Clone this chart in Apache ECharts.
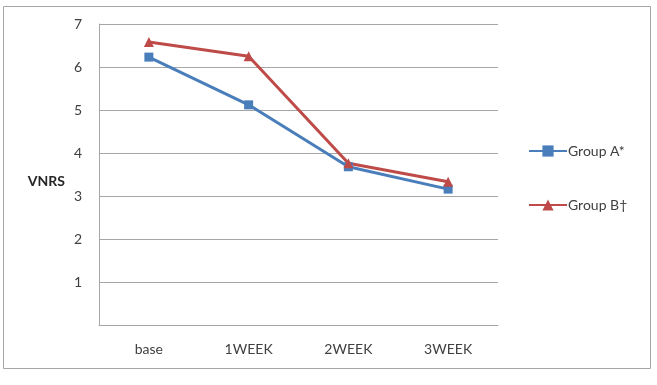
<!DOCTYPE html>
<html>
<head>
<meta charset="utf-8">
<script src="https://cdn.jsdelivr.net/npm/echarts@6/dist/echarts.min.js"></script>
<style>
  html, body { margin: 0; padding: 0; background: #fff; }
  #chart { width: 657px; height: 385px; }
</style>
</head>
<body>
<div id="chart"></div>
<script>
var categories = ["base", "1WEEK", "2WEEK", "3WEEK"];
var groupA = [6.23, 5.12, 3.68, 3.16];
var groupB = [6.58, 6.25, 3.76, 3.33];
var seriesNames = ["Group A*", "Group B\u2020"];

var chart = echarts.init(document.getElementById("chart"));

var option = {
  animation: false,
  textStyle: { fontFamily: "Lato, 'Open Sans', sans-serif" },
  graphic: [
    {
      type: "rect",
      shape: { x: 3.5, y: 6.5, width: 647, height: 362 },
      style: { fill: "none", stroke: "#a6a6a6", lineWidth: 1 },
      silent: true
    }
  ],
  grid: { left: 99, top: 24, right: 159, bottom: 60 },
  legend: {
    orient: "vertical",
    left: 523,
    top: 139,
    itemWidth: 38,
    itemHeight: 14,
    itemGap: 40,
    data: seriesNames,
    textStyle: { color: "#404040", fontSize: 14, lineHeight: 14, padding: [0, 0, 0, -4] }
  },
  xAxis: {
    type: "category",
    data: categories,
    boundaryGap: true,
    axisLine: { lineStyle: { color: "#a6a6a6", width: 1 } },
    axisTick: { show: false },
    axisLabel: { color: "#404040", fontSize: 14, margin: 17 }
  },
  yAxis: {
    type: "value",
    min: 0,
    max: 7,
    interval: 1,
    name: "VNRS",
    nameLocation: "middle",
    nameRotate: 0,
    nameGap: 34,
    nameTextStyle: { color: "#262626", fontSize: 14, fontWeight: "bold", verticalAlign: "top" },
    axisLine: { show: true, lineStyle: { color: "#a6a6a6", width: 1 } },
    axisTick: { show: false },
    axisLabel: {
      color: "#404040",
      fontSize: 14,
      margin: 17,
      formatter: function (v) { return v === 0 ? "" : v; }
    },
    splitLine: { lineStyle: { color: "#a6a6a6", width: 1 } }
  },
  series: [
    {
      name: seriesNames[0],
      type: "line",
      data: groupA,
      symbol: "rect",
      symbolSize: 9,
      lineStyle: { color: "#4a7ebb", width: 3 },
      itemStyle: { color: "#4a7ebb" }
    },
    {
      name: seriesNames[1],
      type: "line",
      data: groupB,
      symbol: "triangle",
      symbolSize: 10,
      lineStyle: { color: "#be4b48", width: 3 },
      itemStyle: { color: "#be4b48" }
    }
  ]
};

chart.setOption(option);
window.addEventListener("resize", function () { chart.resize(); });
</script>
</body>
</html>
